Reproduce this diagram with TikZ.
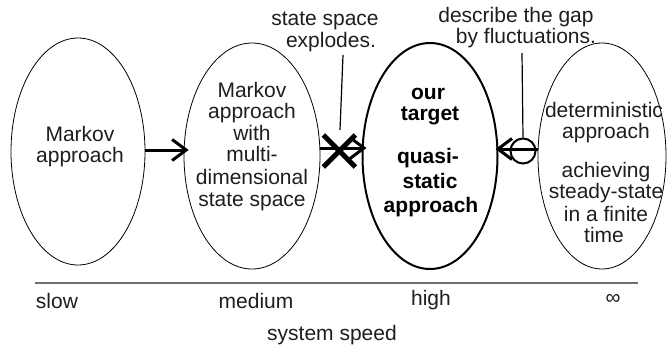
\documentclass[tikz,border=0pt]{standalone}
\usepackage{fontspec}
\setmainfont{Liberation Sans}
\usetikzlibrary{arrows.meta,shapes.geometric}
\definecolor{txt}{HTML}{1E1E1E}
\definecolor{axisgray}{HTML}{707070}
\begin{document}
\begin{tikzpicture}[x=1pt,y=1pt,
  ell/.style={draw=black,ellipse,line width=0.8pt,inner sep=0pt},
  mainell/.style={ell,line width=2pt},
  lbl/.style={anchor=base,inner sep=0pt,text=txt,font=\fontsize{21}{22}\selectfont},
  blbl/.style={lbl,text=black,font=\fontsize{21}{22}\selectfont\bfseries},
  arr/.style={line width=3pt,-{Straight Barb[length=14pt,width=21pt]}},
  callout/.style={line width=1.2pt,draw=black},
  crossline/.style={line width=5pt}]
\useasboundingbox (0,0) rectangle (667,-346);
% ellipses
\node[ell,minimum width=134,minimum height=227] (e1) at (78,-151.5) {};
\node[ell,minimum width=136,minimum height=226] (e2) at (252,-156) {};
\node[mainell,minimum width=135,minimum height=226] (e3) at (430,-156) {};
\node[ell,minimum width=128,minimum height=226] (e4) at (602,-156) {};
% texts ellipse 1
\node[lbl] (t1a) at (80,-141) {Markov};
\node[lbl] (t1b) at (80,-162) {approach};
% texts ellipse 2
\node[lbl] (t2a) at (252,-97) {Markov};
\node[lbl] (t2b) at (252,-118) {approach};
\node[lbl] (t2c) at (252,-140) {with};
\node[lbl] (t2d) at (252,-161) {multi-};
\node[lbl] (t2e) at (252,-184) {dimensional};
\node[lbl] (t2f) at (252,-206) {state space};
% texts ellipse 3
\node[blbl] (t3a) at (428,-99) {our};
\node[blbl] (t3b) at (430,-120) {target};
\node[blbl] (t3c) at (428,-163) {quasi-};
\node[blbl] (t3d) at (430,-188) {static};
\node[blbl] (t3e) at (431,-212) {approach};
% texts ellipse 4
\node[lbl] (t4a) at (604,-117) {deterministic};
\node[lbl] (t4b) at (606,-138) {approach};
\node[lbl] (t4c) at (606,-177) {achieving};
\node[lbl] (t4d) at (606,-198) {steady-state};
\node[lbl] (t4e) at (606,-221) {in a finite};
\node[lbl] (t4f) at (604,-242) {time};
% top notes
\node[lbl] (n1a) at (325,-25) {state space};
\node[lbl] (n1b) at (331,-47) {explodes.};
\node[lbl] (n2a) at (516,-22) {describe the gap};
\node[lbl] (n2b) at (526,-43) {by fluctuations.};
% arrows
\draw[arr] ([yshift=1.5]e1.east) -- ([xshift=5,yshift=6]e2.west);
\draw[arr] ([yshift=8]e2.east) -- ([xshift=5,yshift=8]e3.west) coordinate[pos=0.41] (xc);
\draw[crossline] ([shift={(-16,13)}]xc) -- ([shift={(16,-19)}]xc);
\draw[crossline] ([shift={(16,13)}]xc) -- ([shift={(-16,-19)}]xc);
\node[draw=black,circle,line width=2pt,minimum size=25,inner sep=0pt] (gap) at (523,-151) {};
\draw[arr] ([yshift=7]e4.west) -- ([xshift=-3,yshift=7]e3.east);
% callout lines
\coordinate (c1a) at (343,-55);
\coordinate (c1b) at (340,-130);
\draw[callout] (c1a) -- (c1b);
\coordinate (c2a) at (522,-53);
\draw[callout] (c2a) -- (gap.north);
% axis
\coordinate (ax1) at (35,-283);
\coordinate (ax2) at (638,-283);
\draw[axisgray,line width=1.5pt] (ax1) -- (ax2);
\node[lbl] (slow) at (57,-308) {slow};
\node[lbl] (medium) at (256,-308) {medium};
\node[lbl] (high) at (431,-305) {high};
\node[lbl,anchor=center] (inf) at (613,-299) {∞};
\node[lbl] (speed) at (332,-340) {system speed};
\end{tikzpicture}
\end{document}
